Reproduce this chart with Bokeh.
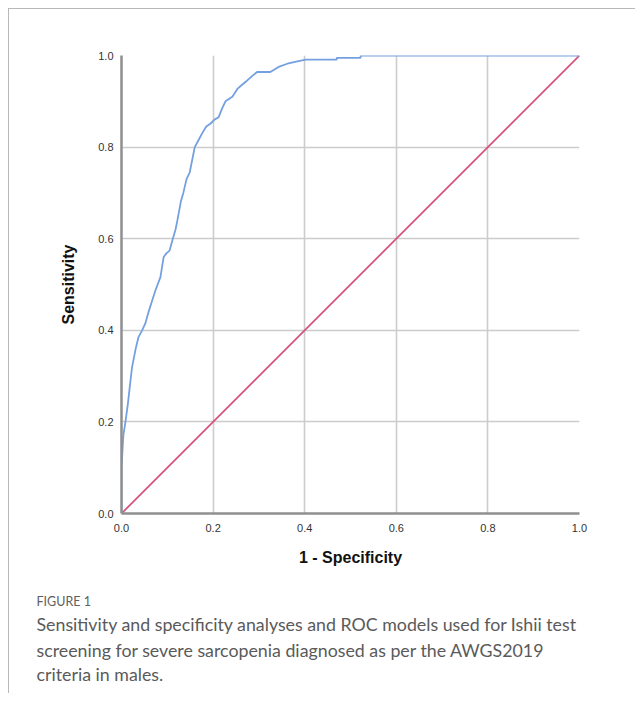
from bokeh.plotting import figure
from bokeh.models import Range1d, FixedTicker, Title
from bokeh.embed import file_html
from bokeh.resources import INLINE

# ROC curve (1 - specificity, sensitivity)
fpr = [0.0, 0.0, 0.004, 0.009, 0.014, 0.018, 0.023, 0.031, 0.037, 0.045, 0.052,
       0.060, 0.067, 0.074, 0.085, 0.092, 0.098, 0.105, 0.111, 0.118, 0.122,
       0.130, 0.135, 0.142, 0.149, 0.155, 0.160, 0.168, 0.176, 0.185, 0.194,
       0.203, 0.212, 0.220, 0.227, 0.242, 0.253, 0.262, 0.274, 0.285, 0.296,
       0.325, 0.343, 0.362, 0.384, 0.402, 0.470, 0.470, 0.522, 0.522, 1.0]
tpr = [0.0, 0.10, 0.17, 0.203, 0.24, 0.276, 0.319, 0.36, 0.385, 0.40, 0.415,
       0.443, 0.465, 0.487, 0.516, 0.56, 0.568, 0.574, 0.596, 0.62, 0.64,
       0.683, 0.70, 0.73, 0.745, 0.775, 0.80, 0.815, 0.83, 0.845, 0.851,
       0.86, 0.865, 0.885, 0.90, 0.91, 0.927, 0.935, 0.945, 0.955, 0.964,
       0.964, 0.975, 0.982, 0.987, 0.991, 0.991, 0.995, 0.995, 1.0, 1.0]
ref_x = [0.0, 1.0]
ref_y = [0.0, 1.0]
ticks = [0.0, 0.2, 0.4, 0.6, 0.8, 1.0]
tick_labels = {0.0: "0.0", 0.2: "0.2", 0.4: "0.4", 0.6: "0.6", 0.8: "0.8", 1.0: "1.0"}

x_title = "1 - Specificity"
y_title = "Sensitivity"
fig_tag = "FIGURE 1"
caption = [
    "Sensitivity and specificity analyses and ROC models used for Ishii test",
    "screening for severe sarcopenia diagnosed as per the AWGS2019",
    "criteria in males.",
]

FRAME = 458  # frame size in px

p = figure(width=626, height=684, output_backend="svg", toolbar_location=None,
           x_range=Range1d(0, 1), y_range=Range1d(0, 1),
           frame_width=FRAME, frame_height=FRAME,
           min_border_left=112, min_border_top=46, min_border_right=56,
           min_border_bottom=180)
p.styles = {"margin-left": "8px", "margin-top": "8px",
            "border-top": "1.5px solid #b8b8b8", "border-left": "1.5px solid #b8b8b8"}
p.background_fill_color = "white"
p.border_fill_color = "white"
p.outline_line_color = None

for ax in (p.xaxis, p.yaxis):
    ax.ticker = FixedTicker(ticks=ticks)
    ax.major_label_overrides = tick_labels
    ax.axis_line_color = "#8f8f8f"
    ax.axis_line_width = 2.5
    ax.major_tick_line_color = None
    ax.minor_tick_line_color = None
    ax.major_label_text_font = "Liberation Sans"
    ax.major_label_text_font_size = "11px"
    ax.major_label_text_color = "#333333"
    ax.axis_label_text_font = "Liberation Sans"
    ax.axis_label_text_font_size = "16px"
    ax.axis_label_text_font_style = "bold"
    ax.axis_label_text_color = "#111111"

p.xaxis.axis_label = x_title
p.yaxis.axis_label = y_title
p.xaxis.major_label_standoff = 4
p.yaxis.major_label_standoff = 2
p.xaxis.axis_label_standoff = 14
p.yaxis.axis_label_standoff = 18

for g in (p.xgrid, p.ygrid):
    g.ticker = FixedTicker(ticks=ticks)
    g.grid_line_color = "#cccccc"
    g.grid_line_width = 1.6

p.line(ref_x, ref_y, line_color="#d4557c", line_width=1.8)
p.line(fpr, tpr, line_color="#74a0e0", line_width=1.8)

# caption stacked below the x axis: an empty spacer, the tag, then the lines
p.add_layout(Title(text=" ", align="left", offset=-85, standoff=20,
                   text_font_size="1px"), "below")
p.add_layout(Title(text=fig_tag, align="left", offset=-85, standoff=0,
                   text_font="Lato", text_font_size="12.5px", text_color="#606060",
                   text_font_style="normal"), "below")
for i, line in enumerate(caption):
    p.add_layout(Title(text=line, align="left", offset=-85,
                       standoff=4 if i == 0 else 0,
                       text_font="Lato", text_font_size="17.8px",
                       text_color="#5a5a5a", text_font_style="normal"), "below")

open("out.html", "w").write(file_html(p, INLINE))
